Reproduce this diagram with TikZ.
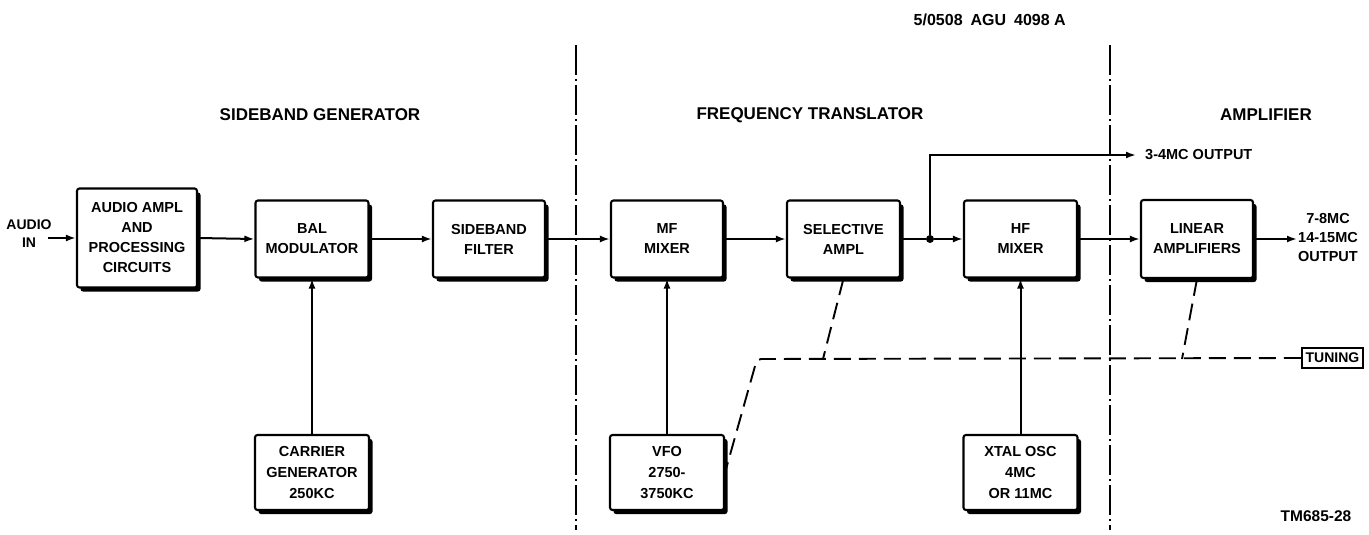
\documentclass[tikz,border=0pt]{standalone}
\usepackage{fontspec}
\setmainfont{Liberation Sans}
\usetikzlibrary{shadows,arrows.meta,calc}
\begin{document}
\begin{tikzpicture}[x=1pt,y=-1pt,
  blk/.style={draw, line width=2.1pt, rounded corners=2.5pt, fill=white,
    minimum width=113pt, minimum height=77pt, align=center, inner sep=2pt,
    font=\fontsize{14.5}{20}\selectfont\bfseries,
    drop shadow={shadow xshift=3.5pt, shadow yshift=-4pt, fill=black, opacity=1}},
  blkthree/.style={blk, minimum width=114pt, minimum height=75pt,
    font=\fontsize{14.5}{21}\selectfont\bfseries},
  conn/.style={line width=2pt},
  arr/.style={conn, -{Latex[length=10pt,width=7pt]}},
  tune/.style={line width=1.9pt, dash pattern=on 17pt off 8pt},
  sect/.style={line width=2pt, dash pattern=on 30pt off 4pt on 2pt off 4pt},
  title/.style={font=\fontsize{17}{20}\selectfont\bfseries},
  lbl/.style={font=\fontsize{14.5}{19}\selectfont\bfseries, align=center, inner sep=0pt}]

\fill[white] (0,0) rectangle (1369,535);
\useasboundingbox (0,0) rectangle (1369,535);

% reference label and titles
\node[anchor=east, inner sep=0pt, font=\fontsize{16}{18}\selectfont\bfseries] (ref) at (1066,20) {5/0508\hspace{8pt}AGU\hspace{8pt}4098 A};
\node[title] (t1) at (320,115) {SIDEBAND GENERATOR};
\node[title] (t2) at (810,115) {FREQUENCY TRANSLATOR};
\node[title] (t3) at (1266,115) {AMPLIFIER};
\node[lbl, font=\fontsize{15.5}{18}\selectfont\bfseries] (tm) at (1316,516) {TM685-28};

% section dividers
\coordinate (d1t) at (576,45); \coordinate (d1b) at (576,530);
\coordinate (d2t) at (1110,45); \coordinate (d2b) at (1110,530);
\draw[sect] (d1t) -- (d1b);
\draw[sect] (d2t) -- (d2b);

% blocks
\node[blk, minimum width=120pt, minimum height=99pt] (audio) at (137,238) {AUDIO AMPL\\AND\\PROCESSING\\CIRCUITS};
\node[blk] (bal) at (312,239) {BAL\\MODULATOR};
\node[blk, minimum width=112pt] (sbf) at (489,239) {SIDEBAND\\FILTER};
\node[blk, minimum width=112pt] (mf) at (667,239) {MF\\MIXER};
\node[blk] (sel) at (843.5,239) {SELECTIVE\\AMPL};
\node[blk] (hf) at (1020.5,239) {HF\\MIXER};
\node[blk, minimum width=112pt, minimum height=78pt] (lin) at (1197,239) {LINEAR\\AMPLIFIERS};
\node[blkthree] (car) at (312,472.5) {CARRIER\\GENERATOR\\250KC};
\node[blkthree] (vfo) at (667,472.5) {VFO\\2750-\\3750KC};
\node[blkthree] (xtal) at (1020.5,472.5) {XTAL OSC\\4MC\\OR 11MC};

% audio in
\node[lbl, font=\fontsize{14}{18}\selectfont\bfseries] (ain) at (29,234) {AUDIO\\IN};
\coordinate (ai) at (48,238);
\draw[arr] (ai) -- (audio.west);

% signal chain
\draw[arr] (audio.east) -- (bal.west);
\draw[arr] (bal.east) -- (sbf.west);
\draw[arr] (sbf.east) -- (mf.west);
\draw[arr] (mf.east) -- (sel.west);
\node[circle, fill, inner sep=0pt, minimum size=8pt] (j) at (930,239) {};
\draw[conn] (sel.east) -- (j);
\draw[arr] (j) -- (hf.west);
\draw[arr] (hf.east) -- (lin.west);

% 3-4MC output
\coordinate (o34a) at (1136,155);
\draw[arr] (j) |- (o34a);
\node[lbl, anchor=west] (o34) at (1145,155) {3-4MC OUTPUT};

% final output
\coordinate (oc) at (1297,239);
\draw[arr] (lin.east) -- (oc);
\node[lbl] (otxt) at (1328,238) {7-8MC\\14-15MC\\OUTPUT};

% oscillator feeds
\draw[arr] (car.north) -- (bal.south);
\draw[arr] (vfo.north) -- (mf.south);
\draw[arr] (xtal.north) -- (hf.south);

% tuning
\node[draw, line width=2.1pt, minimum width=61pt, minimum height=20pt, inner sep=1pt,
  font=\fontsize{14}{15}\selectfont\bfseries] (tun) at (1332.5,358) {TUNING};
\coordinate (tc) at (757,359);
\draw[tune, rounded corners=4pt] (tun.west) -- (tc) -- (vfo.east);
\coordinate (sb) at (823,359);
\draw[tune] (sel.south) -- (sb);
\coordinate (lb) at (1182,359);
\draw[tune] (lin.south) -- (lb);
\end{tikzpicture}
\end{document}
